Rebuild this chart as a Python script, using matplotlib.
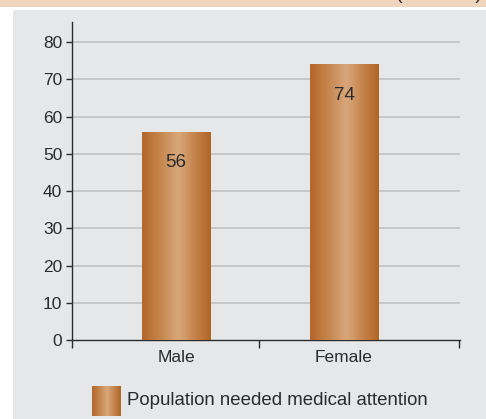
import matplotlib
matplotlib.use("Agg")
import matplotlib.pyplot as plt
import numpy as np
from matplotlib.colors import LinearSegmentedColormap
from matplotlib.patches import Rectangle

# ── Data ────────────────────────────────────────────────────────────────────
categories = ["Male", "Female"]
values     = [56, 74]
series     = "Population needed medical attention"
unit_note  = "(Per cent)"
y_ticks    = [0, 10, 20, 30, 40, 50, 60, 70, 80]

# ── Style ───────────────────────────────────────────────────────────────────
plt.rcParams["font.family"] = ["Liberation Sans", "DejaVu Sans"]
W, H = 486, 419
PANEL = "#e6e7e9"
BAND = "#efd5bd"
TEXT = "#2b2b2b"
copper = LinearSegmentedColormap.from_list(
    "copper_bar",
    [(0.0, "#b3672a"), (0.25, "#c4844b"), (0.53, "#d9a77b"),
     (0.8, "#c27f45"), (1.0, "#b16527")])
grad = np.linspace(0, 1, 256).reshape(1, -1)

fig = plt.figure(figsize=(W / 100, H / 100), dpi=100)
fig.patch.set_facecolor("white")

# header band + grey panel
fig.add_artist(Rectangle((0, 1 - 7.5 / H), 1, 7.5 / H, transform=fig.transFigure,
                         facecolor=BAND, edgecolor="none", zorder=0))
fig.add_artist(Rectangle((13 / W, 0), 1 - 13 / W, 1 - 10 / H, transform=fig.transFigure,
                         facecolor=PANEL, edgecolor="none", zorder=0))
fig.text(482 / W, 1 + 1.5 / H, unit_note, ha="right", va="baseline",
         fontsize=14, color=TEXT)

# ── Chart ───────────────────────────────────────────────────────────────────
x0, x1, y0, y1 = 72, 460, 340.3, 22
ax = fig.add_axes([x0 / W, 1 - y0 / H, (x1 - x0) / W, (y0 - y1) / H])
ax.set_facecolor("none")

xpos = np.arange(len(categories))
xlim = (-0.619, 1.690)
ylim = (0, 85.4)

bar_w = 0.405
for x, v in zip(xpos, values):
    rect = Rectangle((x - bar_w / 2, 0), bar_w, v, facecolor="none",
                     edgecolor="none", zorder=3)
    ax.add_patch(rect)
    im = ax.imshow(grad, cmap=copper, aspect="auto", zorder=3,
                   extent=(x - bar_w / 2, x + bar_w / 2, 0, v))
    im.set_clip_path(rect)
    ax.text(x, v - 8.3, f"{v}", ha="center", va="center",
            fontsize=13.5, color=TEXT, zorder=4)

# grid
for t in y_ticks[1:]:
    ax.axhline(t, color="#bdbec0", linewidth=1.1, zorder=1)

for s in ("top", "right"):
    ax.spines[s].set_visible(False)
for s in ("left", "bottom"):
    ax.spines[s].set_color("#2b2b2b")
    ax.spines[s].set_linewidth(1.0)

ax.set_yticks(y_ticks)
ax.tick_params(axis="y", length=4, width=1.0, color="#2b2b2b", pad=3,
               labelsize=12.5, labelcolor=TEXT)
ax.set_xticks(xpos)
ax.set_xticklabels(categories)
ax.tick_params(axis="x", which="major", length=0, pad=7,
               labelsize=12.5, labelcolor=TEXT)
ax.set_xticks([xlim[0], 0.494, xlim[1] - 0.005], minor=True)
ax.tick_params(axis="x", which="minor", length=6, width=1.0, color="#2b2b2b")
ax.set_xlim(*xlim)
ax.set_ylim(*ylim)

# ── Legend ──────────────────────────────────────────────────────────────────
lax = fig.add_axes([92 / W, 1 - 416 / H, 29 / W, 30 / H])
lax.imshow(grad, cmap=copper, aspect="auto")
lax.axis("off")
fig.text(127 / W, 1 - 400 / H, series, ha="left", va="center",
         fontsize=13.4, color=TEXT)

fig.savefig("out.png", dpi=100)
